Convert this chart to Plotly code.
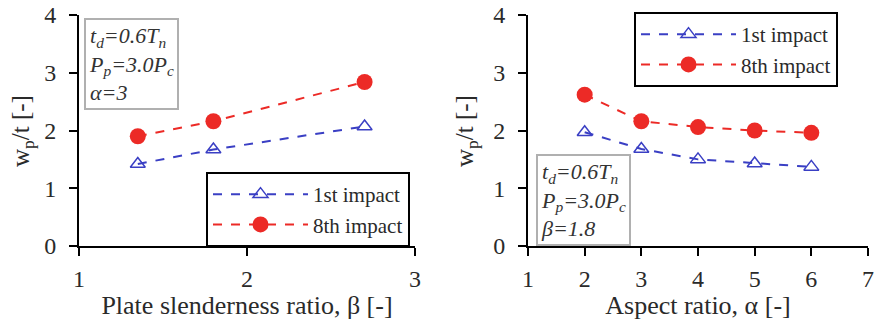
import plotly.graph_objects as go

# Left panel data: plate slenderness ratio
beta_vals = [1.35, 1.8, 2.7]
left_1st = [1.42, 1.67, 2.07]
left_8th = [1.90, 2.16, 2.84]

# Right panel data: aspect ratio
alpha_vals = [2, 3, 4, 5, 6]
right_1st = [1.97, 1.68, 1.50, 1.43, 1.37]
right_8th = [2.62, 2.16, 2.06, 2.00, 1.96]

series_names = ["1st impact", "8th impact"]
left_ticks_x = [1, 2, 3]
right_ticks_x = [1, 2, 3, 4, 5, 6, 7]
y_ticks = [0, 1, 2, 3, 4]

BLUE = "#3a3fc4"
RED = "#ec2a26"
FONT = "Liberation Serif, Times New Roman, serif"
TXT = "#2a2a2a"

W, H = 876, 320
def px(x):
    return x / W
def py(y):
    return 1 - y / H

fig = go.Figure()

def add_pair(x, y1, y8, xa, ya, legend):
    fig.add_trace(go.Scatter(
        x=x, y=y1, name=series_names[0], mode="lines+markers",
        line=dict(color=BLUE, width=2, dash="dash"),
        marker=dict(symbol="triangle-up-open", size=13, color=BLUE, line=dict(width=1.5, color=BLUE)),
        xaxis=xa, yaxis=ya, legend=legend))
    fig.add_trace(go.Scatter(
        x=x, y=y8, name=series_names[1], mode="lines+markers",
        line=dict(color=RED, width=2, dash="dash"),
        marker=dict(symbol="circle", size=16, color=RED),
        xaxis=xa, yaxis=ya, legend=legend))

add_pair(beta_vals, left_1st, left_8th, "x", "y", "legend")
add_pair(alpha_vals, right_1st, right_8th, "x2", "y2", "legend2")

axis_common = dict(showline=True, linecolor="black", linewidth=2, ticks="outside",
                   ticklen=8, tickwidth=2, tickcolor="black", showgrid=False, zeroline=False,
                   automargin=False, ticklabeloverflow="allow",
                   tickfont=dict(family=FONT, size=24, color=TXT),
                   title_font=dict(family=FONT, size=26, color=TXT))

ydom = [py(246), py(15)]

xax = dict(title_standoff=0, ticklabelstandoff=2, **axis_common)
yax = dict(ticklabelstandoff=8, **axis_common)

leg_common = dict(xanchor="left", yanchor="top", bordercolor="black", borderwidth=2,
                  bgcolor="white", font=dict(family=FONT, size=21, color=TXT),
                  itemwidth=95, tracegroupgap=0)

fig.update_layout(
    width=W, height=H, margin=dict(l=0, r=0, t=0, b=0),
    paper_bgcolor="white", plot_bgcolor="white",
    xaxis=dict(domain=[px(79), px(415)], range=[1, 3], tickvals=left_ticks_x,
               title_text="Plate slenderness ratio, β [-]", anchor="y", **xax),
    yaxis=dict(domain=ydom, range=[0, 4], tickvals=y_ticks, anchor="x", **yax),
    xaxis2=dict(domain=[px(528), px(868)], range=[1, 7], tickvals=right_ticks_x,
                title_text="Aspect ratio, α [-]", anchor="y2", **xax),
    yaxis2=dict(domain=ydom, range=[0, 4], tickvals=y_ticks, anchor="x2", **yax),
    legend=dict(x=px(206), y=py(172), **leg_common),
    legend2=dict(x=px(634), y=py(12), **leg_common),
    showlegend=True,
)

# y-axis titles
ytitle = "w<sub>p</sub>/t [-]"
for xpos in (22, 466):
    fig.add_annotation(text=ytitle, textangle=-90, xref="paper", yref="paper",
                       x=px(xpos), y=py(131), xanchor="center", yanchor="middle",
                       showarrow=False, font=dict(family=FONT, size=25, color=TXT))

box_font = dict(family=FONT, size=22, color="#333")
box_common = dict(xref="paper", yref="paper", xanchor="left", yanchor="top",
                  showarrow=False, align="left", bordercolor="#b0b0b0", borderwidth=2,
                  borderpad=3, bgcolor="white", font=box_font)
fig.add_annotation(
    text="<i>t<sub>d</sub>=0.6T<sub>n</sub><br>P<sub>p</sub>=3.0P<sub>c</sub><br>α=3</i>",
    x=px(84), y=py(18), **box_common)
fig.add_annotation(
    text="<i>t<sub>d</sub>=0.6T<sub>n</sub><br>P<sub>p</sub>=3.0P<sub>c</sub><br>β=1.8</i>",
    x=px(536), y=py(154), **box_common)

fig.write_html("out.html", config={"displayModeBar": False},
               post_script="document.body.style.margin='0';document.body.style.overflow='hidden';")
